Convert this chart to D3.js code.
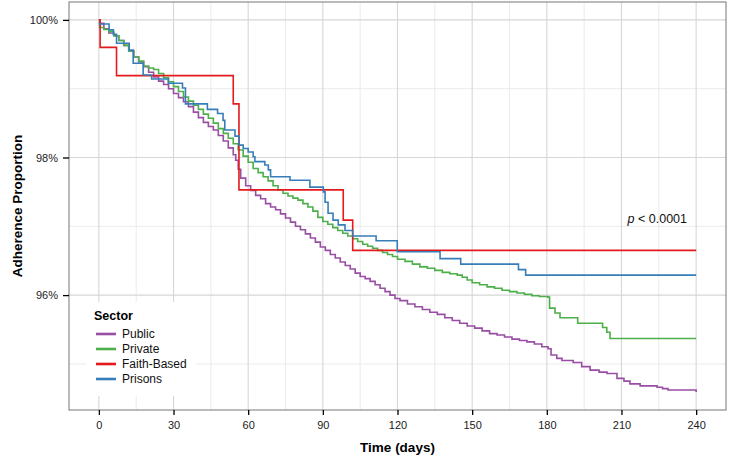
<!DOCTYPE html>
<html>
<head>
<meta charset="utf-8">
<script src="https://cdn.jsdelivr.net/npm/d3@7"></script>
<style>
  html, body { margin: 0; padding: 0; background: #fff; }
  svg { display: block; font-family: "Liberation Sans", Arial, sans-serif; }
</style>
</head>
<body>
<svg id="chart" width="729" height="459"></svg>
<script>
// ---- Data ----
const seriesNames = ["Public", "Private", "Faith-Based", "Prisons"];
const seriesColors = ["#984EA3", "#4DAF4A", "#E41A1C", "#377EB8"];

const publicTime  = [0, 0.3, 2, 4, 6, 8, 10, 12, 14, 16, 18, 20, 22, 24, 26, 28, 30, 32, 34, 36, 38, 40, 42, 44, 46, 48, 50, 52, 54, 55, 56, 57, 59, 61, 63, 65, 67, 69, 71, 73, 75, 77, 79, 81, 83, 85, 87, 89, 91, 93, 95, 97, 99, 101, 103, 105, 107, 109, 111, 113, 115, 117, 119, 121, 124, 127, 130, 133, 136, 139, 142, 145, 148, 151, 154, 157, 160, 163, 166, 169, 172, 175, 178, 180.5, 181.7, 184, 186.1, 190.6, 194, 197.4, 201, 204.2, 208.2, 211, 213.4, 217.5, 224.3, 226.5, 228.7, 240];
const publicValue = [100, 99.95, 99.87, 99.81, 99.77, 99.70, 99.63, 99.55, 99.46, 99.39, 99.32, 99.24, 99.17, 99.11, 99.06, 99.00, 98.93, 98.87, 98.81, 98.74, 98.66, 98.58, 98.51, 98.45, 98.40, 98.32, 98.24, 98.14, 98.04, 97.96, 97.83, 97.70, 97.59, 97.52, 97.45, 97.40, 97.33, 97.28, 97.24, 97.18, 97.12, 97.06, 97.00, 96.95, 96.89, 96.83, 96.77, 96.70, 96.65, 96.59, 96.54, 96.48, 96.43, 96.38, 96.32, 96.27, 96.24, 96.20, 96.15, 96.10, 96.05, 96.00, 95.95, 95.92, 95.87, 95.83, 95.79, 95.75, 95.72, 95.67, 95.63, 95.59, 95.55, 95.52, 95.48, 95.44, 95.42, 95.39, 95.36, 95.34, 95.32, 95.29, 95.25, 95.22, 95.13, 95.08, 95.05, 95.02, 94.96, 94.91, 94.88, 94.86, 94.79, 94.75, 94.71, 94.68, 94.66, 94.64, 94.62, 94.59];

const privateTime  = [0, 0.3, 2, 4, 6, 8, 10, 12, 14, 16, 18, 20, 22, 24, 26, 28, 30, 32, 34, 36, 38, 40, 42, 44, 46, 48, 50, 52, 54, 56, 58, 60, 62, 64, 66, 68, 70, 72, 74, 76, 78, 80, 82, 84, 86, 88, 90, 92, 94, 96, 98, 100, 102, 104, 106, 108, 110, 112, 114, 116, 118, 120, 123, 126, 129, 132, 135, 138, 141, 144, 146, 148, 150, 153, 156, 159, 162, 165, 168, 171, 174, 177, 180.5, 181.1, 183.3, 185.3, 192.4, 202.4, 204.1, 205.4, 240];
const privateValue = [100, 99.89, 99.86, 99.83, 99.77, 99.70, 99.63, 99.55, 99.46, 99.40, 99.33, 99.30, 99.28, 99.22, 99.16, 99.10, 99.03, 98.96, 98.88, 98.82, 98.76, 98.70, 98.63, 98.57, 98.50, 98.42, 98.35, 98.28, 98.20, 98.11, 98.02, 97.93, 97.84, 97.78, 97.72, 97.66, 97.59, 97.53, 97.48, 97.44, 97.41, 97.38, 97.33, 97.28, 97.22, 97.13, 97.07, 97.03, 96.98, 96.94, 96.90, 96.86, 96.82, 96.78, 96.74, 96.71, 96.68, 96.65, 96.62, 96.59, 96.56, 96.52, 96.49, 96.45, 96.41, 96.39, 96.36, 96.33, 96.31, 96.29, 96.26, 96.22, 96.18, 96.15, 96.12, 96.10, 96.07, 96.05, 96.03, 96.01, 95.99, 95.98, 95.97, 95.81, 95.74, 95.67, 95.59, 95.53, 95.46, 95.37, 95.37];

const faithTime  = [0, 0.5, 7.1, 54.0, 56.3, 98.2, 102.0, 240];
const faithValue = [100, 99.60, 99.19, 98.78, 97.53, 97.09, 96.65, 96.65];

const prisonsTime  = [0, 4.1, 5.8, 7.1, 12.2, 13.8, 17.8, 21.2, 27.9, 33.6, 34.8, 43.6, 47.7, 49.9, 50.6, 54.7, 56.4, 58.0, 60.0, 62.0, 62.7, 66.7, 68.1, 69.0, 76.8, 84.8, 90.2, 90.9, 92.1, 94.1, 96.2, 98.9, 102.0, 111.4, 119.9, 137.1, 145.4, 168.6, 171.5, 240];
const prisonsValue = [99.94, 99.855, 99.79, 99.66, 99.56, 99.37, 99.20, 99.14, 99.08, 99.01, 98.78, 98.70, 98.64, 98.54, 98.40, 98.31, 98.18, 98.13, 98.08, 98.01, 97.94, 97.89, 97.82, 97.72, 97.67, 97.57, 97.50, 97.35, 97.19, 97.09, 97.02, 96.94, 96.86, 96.79, 96.63, 96.53, 96.45, 96.37, 96.29, 96.29];

const xTicks = [0, 30, 60, 90, 120, 150, 180, 210, 240];
const xMinor = [15, 45, 75, 105, 135, 165, 195, 225];
const yTicks = [96, 98, 100];
const yTickLabels = ["96%", "98%", "100%"];
const yMinor = [95, 97, 99];

// ---- Layout ----
const svg = d3.select("#chart");
const panel = { left: 69, right: 726, top: 2, bottom: 410 };

const x = d3.scaleLinear().domain([-12, 252]).range([panel.left, panel.right]);
const y = d3.scaleLinear().domain([94.33, 100.26]).range([panel.bottom, panel.top]);

svg.append("rect")
  .attr("x", panel.left).attr("y", panel.top)
  .attr("width", panel.right - panel.left).attr("height", panel.bottom - panel.top)
  .attr("fill", "#fff");

const grid = svg.append("g");
grid.selectAll(".xminor").data(xMinor).enter().append("line")
  .attr("x1", d => x(d)).attr("x2", d => x(d))
  .attr("y1", panel.top).attr("y2", panel.bottom)
  .attr("stroke", "#ebebeb").attr("stroke-width", 1);
grid.selectAll(".yminor").data(yMinor).enter().append("line")
  .attr("y1", d => y(d)).attr("y2", d => y(d))
  .attr("x1", panel.left).attr("x2", panel.right)
  .attr("stroke", "#ebebeb").attr("stroke-width", 1);
grid.selectAll(".xmajor").data(xTicks).enter().append("line")
  .attr("x1", d => x(d)).attr("x2", d => x(d))
  .attr("y1", panel.top).attr("y2", panel.bottom)
  .attr("stroke", "#d6d6d6").attr("stroke-width", 1.1);
grid.selectAll(".ymajor").data(yTicks).enter().append("line")
  .attr("y1", d => y(d)).attr("y2", d => y(d))
  .attr("x1", panel.left).attr("x2", panel.right)
  .attr("stroke", "#d6d6d6").attr("stroke-width", 1.1);

svg.append("defs").append("clipPath").attr("id", "clip")
  .append("rect")
  .attr("x", panel.left).attr("y", panel.top)
  .attr("width", panel.right - panel.left).attr("height", panel.bottom - panel.top);

const line = d3.line()
  .x(d => x(d[0]))
  .y(d => y(d[1]))
  .curve(d3.curveStepAfter);

const seriesData = [
  d3.zip(publicTime, publicValue),
  d3.zip(privateTime, privateValue),
  d3.zip(faithTime, faithValue),
  d3.zip(prisonsTime, prisonsValue)
];

const linesG = svg.append("g").attr("clip-path", "url(#clip)");
seriesData.forEach((data, i) => {
  linesG.append("path")
    .datum(data)
    .attr("d", line)
    .attr("fill", "none")
    .attr("stroke", seriesColors[i])
    .attr("stroke-width", 1.6)
    .attr("stroke-linejoin", "miter");
});

// Legend
const legend = svg.append("g");
legend.append("rect")
  .attr("x", 86).attr("y", 302).attr("width", 110).attr("height", 94)
  .attr("fill", "#fff");
legend.append("text")
  .attr("x", 94).attr("y", 320)
  .attr("font-size", 12.5).attr("font-weight", "bold").attr("fill", "#000")
  .text("Sector");
seriesNames.forEach((name, i) => {
  const cy = 334 + i * 15;
  legend.append("line")
    .attr("x1", 96).attr("x2", 116)
    .attr("y1", cy).attr("y2", cy)
    .attr("stroke", seriesColors[i]).attr("stroke-width", 2.6);
  legend.append("text")
    .attr("x", 122).attr("y", cy + 4.3)
    .attr("font-size", 12).attr("fill", "#111")
    .text(name);
});

// p-value annotation
const pText = svg.append("text")
  .attr("x", 687).attr("y", 222.5)
  .attr("text-anchor", "end")
  .attr("font-size", 12.5).attr("fill", "#111");
pText.append("tspan").attr("font-style", "italic").text("p");
pText.append("tspan").text(" < 0.0001");

// Panel border
svg.append("rect")
  .attr("x", panel.left).attr("y", panel.top)
  .attr("width", panel.right - panel.left).attr("height", panel.bottom - panel.top)
  .attr("fill", "none").attr("stroke", "#8c8c8c").attr("stroke-width", 1.2);

// Axes
const xAxis = d3.axisBottom(x).tickValues(xTicks).tickSize(5).tickPadding(6);
const xg = svg.append("g").attr("transform", `translate(0,${panel.bottom})`).call(xAxis);
xg.select(".domain").remove();
xg.selectAll(".tick line").attr("stroke", "#000").attr("stroke-width", 1.3);
xg.selectAll(".tick text").attr("font-size", 11).attr("fill", "#222")
  .attr("font-family", "Liberation Sans, Arial, sans-serif");

const yAxis = d3.axisLeft(y).tickValues(yTicks)
  .tickFormat((d, i) => yTickLabels[i]).tickSize(6).tickPadding(5);
const yg = svg.append("g").attr("transform", `translate(${panel.left},0)`).call(yAxis);
yg.select(".domain").remove();
yg.selectAll(".tick line").attr("stroke", "#000").attr("stroke-width", 1.3);
yg.selectAll(".tick text").attr("font-size", 11).attr("fill", "#222")
  .attr("font-family", "Liberation Sans, Arial, sans-serif");

// Axis titles
svg.append("text")
  .attr("x", (panel.left + panel.right) / 2).attr("y", 452)
  .attr("text-anchor", "middle")
  .attr("font-size", 13.5).attr("font-weight", "bold").attr("fill", "#000")
  .text("Time (days)");
svg.append("text")
  .attr("transform", `translate(22,${(panel.top + panel.bottom) / 2}) rotate(-90)`)
  .attr("text-anchor", "middle")
  .attr("font-size", 13.5).attr("font-weight", "bold").attr("fill", "#000")
  .text("Adherence Proportion");
</script>
</body>
</html>
